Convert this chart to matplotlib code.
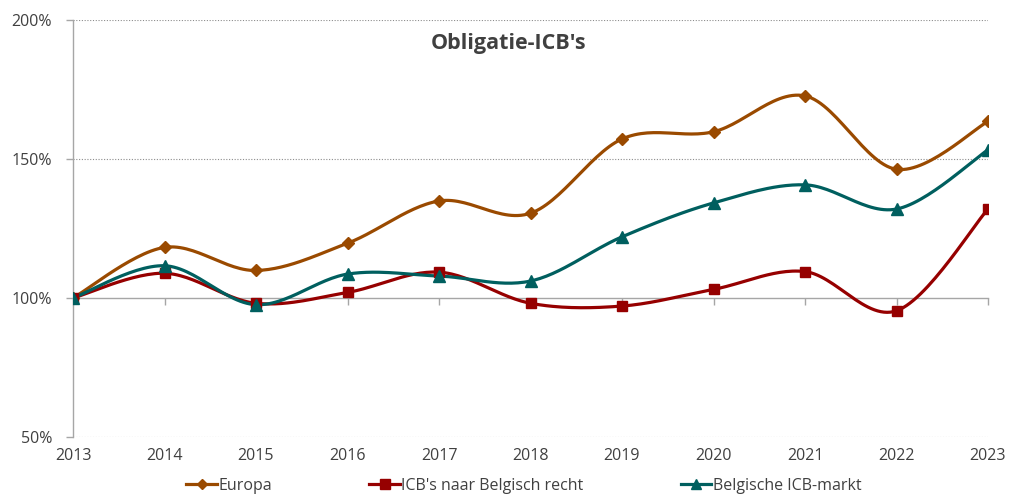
import numpy as np
import matplotlib
matplotlib.use("Agg")
import matplotlib.pyplot as plt
from matplotlib.ticker import FuncFormatter

plt.rcParams['font.family'] = ['Open Sans', 'DejaVu Sans']

years = [2013, 2014, 2015, 2016, 2017, 2018, 2019, 2020, 2021, 2022, 2023]
europa = [100.0, 118.2, 109.9, 119.7, 134.9, 130.5, 157.2, 159.8, 172.7, 146.3, 163.5]
icb_be = [100.0, 108.9, 98.1, 102.0, 109.3, 98.1, 97.1, 103.1, 109.5, 95.4, 132.0]
be_markt = [100.0, 111.6, 97.6, 108.6, 107.9, 106.1, 122.0, 134.2, 140.7, 132.0, 153.3]

title = "Obligatie-ICB's"
names = ["Europa", "ICB's naar Belgisch recht", "Belgische ICB-markt"]
colors = ["#9A4A00", "#960000", "#005F5F"]
markers = ["D", "s", "^"]
msizes = [6.5, 7.5, 8.5]


def smooth(x, y, n=30):
    # Excel-style smoothed line: cubic Bezier through the points
    x = np.asarray(x, float)
    y = np.asarray(y, float)
    P = np.column_stack([x, y])
    ext = np.vstack([P[0], P, P[-1]])
    out = []
    t = np.linspace(0, 1, n)[:, None]
    for i in range(len(P) - 1):
        p0 = ext[i + 1]
        p3 = ext[i + 2]
        c1 = p0 + (ext[i + 2] - ext[i]) / 6.0
        c2 = p3 - (ext[i + 3] - ext[i + 1]) / 6.0
        seg = ((1 - t) ** 3) * p0 + 3 * ((1 - t) ** 2) * t * c1 + 3 * (1 - t) * t ** 2 * c2 + t ** 3 * p3
        out.append(seg if i == 0 else seg[1:])
    s = np.vstack(out)
    return s[:, 0], s[:, 1]


fig = plt.figure(figsize=(10.10, 4.95), dpi=100)
ax = fig.add_axes([73 / 1010, 1 - 437 / 495, (988 - 73) / 1010, (437 - 20) / 495])

handles = []
for vals, name, c, m, ms in zip([europa, icb_be, be_markt], names, colors, markers, msizes):
    sx, sy = smooth(years, vals)
    ax.plot(sx, sy, color=c, lw=2.3, zorder=3, solid_capstyle='round')
    ax.plot(years, vals, linestyle='none', marker=m, ms=ms, color=c, zorder=4)
    h, = ax.plot([], [], color=c, lw=2.3, marker=m, ms=ms - 1, label=name)
    handles.append(h)

ax.set_xlim(2013, 2023)
ax.set_ylim(50, 200)
ax.set_yticks([50, 100, 150, 200])
ax.yaxis.set_major_formatter(FuncFormatter(lambda v, p: f"{v:.0f}%"))
ax.set_xticks(years)

for yv in [50, 150, 200]:
    ax.axhline(yv, color="#8c8c8c", lw=0.8, ls=(0, (1, 1.5)), zorder=1)

for s in ['top', 'right']:
    ax.spines[s].set_visible(False)
ax.spines['left'].set_color("#a6a6a6")
ax.spines['left'].set_linewidth(1.0)
ax.spines['bottom'].set_position(('data', 100))
ax.spines['bottom'].set_color("#a6a6a6")
ax.spines['bottom'].set_linewidth(1.0)

ax.tick_params(axis='y', colors="#a6a6a6", labelcolor="#404040", labelsize=11.5, length=5, width=1, pad=10)
ax.tick_params(axis='x', colors="#a6a6a6", labelcolor="#404040", labelsize=11.5, length=5, width=1, direction='out', pad=103)

fig.text(509 / 1010, 1 - 43 / 495, title, ha='center', va='center', fontsize=15.5, fontweight='bold', color="#404040")

leg = fig.legend(handles=handles, loc='center', bbox_to_anchor=(524 / 1010, 1 - 486 / 495), ncol=3, frameon=False,
                 fontsize=11.5, handlelength=1.9, handletextpad=0.1, columnspacing=6.1, labelcolor="#404040",
                 borderaxespad=0)

fig.savefig("out.png", dpi=100)
